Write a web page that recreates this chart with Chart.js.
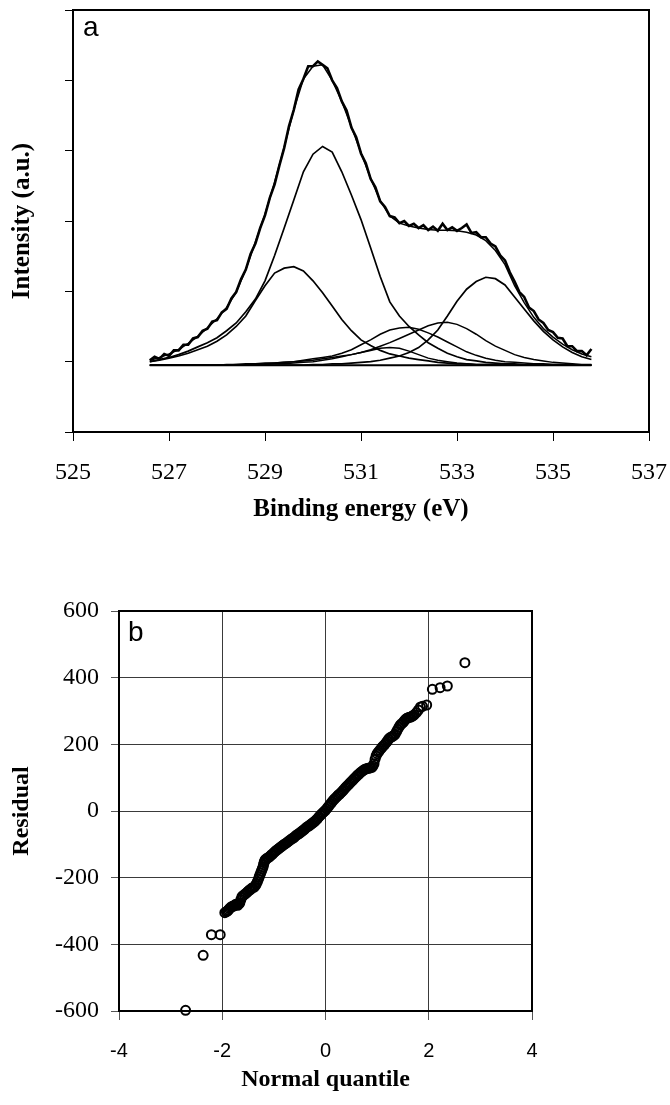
<!DOCTYPE html>
<html>
<head>
<meta charset="utf-8">
<script src="https://cdn.jsdelivr.net/npm/chart.js@4.4.1/dist/chart.umd.min.js"></script>
<style>
  html, body { margin: 0; padding: 0; background: #fff; }
  canvas { position: absolute; left: 0; }
  #chartA { top: 0; }
  #chartB { top: 560px; }
</style>
</head>
<body>
<canvas id="chartA" width="670" height="545"></canvas>
<canvas id="chartB" width="670" height="545"></canvas>
<script>
// ---- panel a: O 1s spectrum and fitted components ----
const spectrumE = [526.6,526.7,526.8,526.9,527.0,527.1,527.2,527.3,527.4,527.5,527.6,527.7,527.8,527.9,528.0,528.1,528.2,528.3,528.4,528.5,528.6,528.7,528.8,528.9,529.0,529.1,529.2,529.3,529.4,529.5,529.6,529.7,529.8,529.9,530.0,530.1,530.2,530.3,530.4,530.5,530.6,530.7,530.8,530.9,531.0,531.1,531.2,531.3,531.4,531.5,531.6,531.7,531.8,531.9,532.0,532.1,532.2,532.3,532.4,532.5,532.6,532.7,532.8,532.9,533.0,533.1,533.2,533.3,533.4,533.5,533.6,533.7,533.8,533.9,534.0,534.1,534.2,534.3,534.4,534.5,534.6,534.7,534.8,534.9,535.0,535.1,535.2,535.3,535.4,535.5,535.6,535.7,535.8];
const spectrum = [1.02,1.07,1.04,1.11,1.08,1.16,1.16,1.24,1.24,1.33,1.35,1.44,1.47,1.57,1.59,1.70,1.75,1.90,1.99,2.17,2.31,2.53,2.68,2.90,3.08,3.33,3.52,3.79,4.04,4.35,4.58,4.87,5.02,5.20,5.20,5.27,5.22,5.17,5.00,4.89,4.70,4.57,4.33,4.19,3.96,3.82,3.60,3.48,3.28,3.20,3.07,3.05,2.97,3.00,2.93,2.96,2.90,2.94,2.87,2.92,2.86,2.96,2.87,2.91,2.86,2.90,2.95,2.83,2.84,2.77,2.77,2.68,2.64,2.51,2.44,2.27,2.14,1.99,1.92,1.77,1.72,1.60,1.55,1.45,1.42,1.34,1.33,1.22,1.22,1.15,1.15,1.09,1.18];

const fitE = [526.6,526.8,527.0,527.2,527.4,527.6,527.8,528.0,528.2,528.4,528.6,528.8,529.0,529.2,529.4,529.6,529.8,530.0,530.2,530.4,530.6,530.8,531.0,531.2,531.4,531.6,531.8,532.0,532.2,532.4,532.6,532.8,533.0,533.2,533.4,533.6,533.8,534.0,534.2,534.4,534.6,534.8,535.0,535.2,535.4,535.6,535.8];
const fitSum = [1.02,1.06,1.11,1.17,1.26,1.36,1.48,1.61,1.77,1.99,2.31,2.70,3.10,3.55,4.05,4.58,5.02,5.20,5.22,5.00,4.70,4.34,3.97,3.61,3.29,3.07,2.97,2.93,2.90,2.88,2.87,2.87,2.86,2.84,2.80,2.72,2.58,2.38,2.08,1.84,1.63,1.47,1.35,1.25,1.17,1.11,1.07];
const peak529 = [1.00,1.02,1.05,1.08,1.12,1.17,1.22,1.29,1.38,1.50,1.65,1.87,2.08,2.26,2.33,2.35,2.29,2.15,1.98,1.79,1.60,1.44,1.31,1.23,1.16,1.11,1.08,1.05,1.03,1.01,0.99,0.98,0.97,0.97,0.96,0.96,0.96,0.96,0.95,0.95,0.95,0.95,0.95,0.95,0.95,0.95,0.95];
const peak530 = [1.00,1.03,1.06,1.10,1.15,1.21,1.27,1.34,1.44,1.55,1.71,1.89,2.15,2.51,2.90,3.30,3.70,3.95,4.06,3.98,3.70,3.37,3.02,2.62,2.21,1.85,1.65,1.50,1.38,1.27,1.19,1.12,1.07,1.03,1.01,0.99,0.98,0.97,0.97,0.96,0.96,0.96,0.96,0.96,0.95,0.95,0.95];
const peak5316 = [0.95,0.95,0.95,0.95,0.95,0.95,0.95,0.95,0.95,0.95,0.95,0.96,0.96,0.97,0.97,0.98,0.99,1.00,1.02,1.04,1.07,1.10,1.13,1.16,1.19,1.20,1.19,1.15,1.10,1.05,1.02,1.00,0.98,0.97,0.96,0.96,0.96,0.95,0.95,0.95,0.95,0.95,0.95,0.95,0.95,0.95,0.95];
const peak532 = [0.95,0.95,0.95,0.95,0.95,0.95,0.95,0.95,0.95,0.96,0.96,0.96,0.97,0.98,0.99,1.00,1.02,1.04,1.06,1.08,1.12,1.17,1.24,1.31,1.39,1.45,1.48,1.49,1.46,1.41,1.35,1.28,1.21,1.14,1.09,1.05,1.02,1.00,0.99,0.98,0.97,0.97,0.96,0.96,0.96,0.95,0.95];
const peak5328 = [0.95,0.95,0.95,0.95,0.95,0.95,0.95,0.95,0.96,0.96,0.97,0.97,0.98,0.98,0.99,1.00,1.01,1.02,1.04,1.06,1.08,1.10,1.13,1.17,1.22,1.27,1.33,1.39,1.45,1.51,1.55,1.56,1.53,1.47,1.39,1.30,1.22,1.16,1.10,1.06,1.03,1.01,0.99,0.98,0.97,0.96,0.96];
const peak5337 = [0.95,0.95,0.95,0.95,0.95,0.95,0.95,0.95,0.95,0.95,0.95,0.95,0.95,0.95,0.95,0.95,0.95,0.96,0.96,0.97,0.97,0.98,0.99,1.00,1.02,1.05,1.08,1.13,1.20,1.31,1.45,1.65,1.86,2.03,2.14,2.20,2.18,2.09,1.92,1.75,1.58,1.43,1.31,1.21,1.13,1.07,1.03];
const baseE = [526.6, 535.8];
const baseV = [0.95, 0.95];

// ---- panel b: normal probability plot of residuals ----
const quantiles = [
  -2.71,-2.37,-2.21,-2.04,-1.95,-1.92,-1.90,-1.88,-1.86,-1.84,
  -1.82,-1.80,-1.78,-1.76,-1.74,-1.72,-1.70,-1.68,-1.66,-1.64,
  -1.62,-1.60,-1.57,-1.55,-1.52,-1.50,-1.47,-1.45,-1.43,-1.41,
  -1.38,-1.36,-1.34,-1.32,-1.30,-1.285,-1.27,-1.255,-1.24,-1.225,
  -1.21,-1.20,-1.19,-1.18,-1.17,-1.15,
  -1.125,-1.100,-1.075,-1.050,-1.025,-1.000,-0.975,-0.950,-0.925,-0.900,
  -0.875,-0.850,-0.825,-0.800,-0.775,-0.750,-0.725,-0.700,-0.675,-0.650,
  -0.625,-0.600,-0.575,-0.550,-0.525,-0.500,-0.475,-0.450,-0.425,-0.400,
  -0.375,-0.350,-0.325,-0.300,-0.275,-0.250,-0.225,-0.200,-0.175,-0.150,
  -0.125,-0.100,-0.075,-0.050,-0.025,0.000,0.025,0.050,0.075,0.100,
  0.125,0.150,0.175,0.200,0.225,0.250,0.275,0.300,0.325,0.350,
  0.375,0.400,0.425,0.450,0.475,0.500,0.525,0.550,0.575,0.600,
  0.625,0.650,0.675,0.700,0.725,0.750,0.775,0.800,0.825,0.850,
  0.875,0.900,0.920,0.940,0.960,0.980,1.000,1.025,1.050,1.075,
  1.100,1.125,1.150,1.175,1.200,1.225,1.250,1.275,1.300,1.325,
  1.350,1.375,1.400,1.425,1.450,1.475,1.500,1.525,1.550,1.575,
  1.600,1.625,1.650,1.675,1.700,
  1.72,1.76,1.80,1.84,1.88,1.96,2.07,2.22,2.36,2.70
];
const residuals = [
  -598,-433,-371,-371,-305,-302,-300,-297,-293,-290,
  -287,-286,-285,-283,-280,-281,-283,-279,-276,-266,
  -258,-254,-251,-248,-244,-241,-237,-235,-232,-230,
  -228,-224,-219,-212,-205,-198,-192,-186,-180,-174,
  -168,-161,-155,-151,-147,-144,
  -141,-139,-136,-132,-129,-125,-121,-118,-115,-112,
  -109,-106,-103,-100,-98,-95,-92,-89,-86,-83,
  -81,-78,-74,-71,-69,-66,-63,-60,-57,-54,
  -50,-47,-45,-42,-39,-36,-33,-30,-26,-22,
  -17,-13,-9,-5,-1,2,7,12,17,22,
  27,32,36,40,44,48,51,55,59,63,
  68,72,76,80,84,88,92,96,100,104,
  108,111,115,118,121,124,126,127,128,129,
  130,131,135,142,155,165,172,177,182,187,
  192,196,200,205,210,216,220,222,224,227,
  230,238,245,252,258,262,265,270,275,278,
  280,281,282,284,286,
  289,295,303,312,314,318,365,370,375,445
];

const SERIF = '"Liberation Serif", "Times New Roman", serif';
const SANS = '"Liberation Sans", Arial, sans-serif';

// frame around the plot area + panel letter
const framePlugin = {
  id: 'frame',
  afterDatasetsDraw(chart, args, opts) {
    const { ctx, chartArea: a } = chart;
    ctx.save();
    ctx.strokeStyle = '#000';
    ctx.lineWidth = 2;
    ctx.strokeRect(a.left, a.top, a.right - a.left, a.bottom - a.top);
    ctx.fillStyle = '#000';
    ctx.font = '28px ' + SANS;
    ctx.textBaseline = 'alphabetic';
    ctx.fillText(opts.letter, a.left + opts.dx, a.top + opts.dy);
    ctx.restore();
  }
};

function lineSet(xs, ys, width) {
  return {
    data: xs.map((x, i) => ({ x, y: ys[i] })),
    showLine: true,
    borderColor: '#000',
    borderWidth: width,
    pointRadius: 0,
    tension: 0,
  };
}

// keep the plot box where it is: no extra room for edge labels
function fixBox(w, h) {
  return s => {
    if (w) s.width = w;
    if (h) s.height = h;
    s.paddingLeft = 0; s.paddingRight = 0;
    s.paddingTop = 0; s.paddingBottom = 0;
  };
}

new Chart(document.getElementById('chartA'), {
  type: 'scatter',
  plugins: [framePlugin],
  data: {
    datasets: [
      lineSet(spectrumE, spectrum, 2.6),
      lineSet(fitE, fitSum, 1.5),
      lineSet(fitE, peak529, 1.7),
      lineSet(fitE, peak530, 1.7),
      lineSet(fitE, peak5316, 1.5),
      lineSet(fitE, peak532, 1.5),
      lineSet(fitE, peak5328, 1.5),
      lineSet(fitE, peak5337, 1.7),
      lineSet(baseE, baseV, 2),
    ],
  },
  options: {
    responsive: false,
    animation: false,
    layout: { padding: { left: 0, right: 21, top: 10, bottom: 0 } },
    plugins: { legend: { display: false }, tooltip: { enabled: false }, frame: { letter: 'a', dx: 10, dy: 26 } },
    scales: {
      x: {
        type: 'linear', min: 525, max: 537,
        ticks: { stepSize: 2, color: '#000', font: { family: SERIF, size: 24 }, padding: 17, maxRotation: 0, autoSkip: false },
        grid: { drawOnChartArea: false, tickLength: 9, tickColor: '#000', tickWidth: 1 },
        border: { display: true, color: '#000', width: 2 },
        title: { display: true, text: 'Binding energy (eV)', color: '#000', font: { family: SERIF, size: 25, weight: 'bold' }, padding: { top: 0, bottom: 20 } },
        afterFit: fixBox(0, 113),
      },
      y: {
        type: 'linear', min: 0, max: 6,
        ticks: { stepSize: 1, callback: () => '' },
        grid: { drawOnChartArea: false, tickLength: 8, tickColor: '#000', tickWidth: 1 },
        border: { display: true, color: '#000', width: 2 },
        title: { display: true, text: 'Intensity (a.u.)', color: '#000', font: { family: SERIF, size: 25, weight: 'bold' }, padding: { top: 8, bottom: 0 } },
        afterFit: fixBox(73, 0),
      },
    },
  },
});

new Chart(document.getElementById('chartB'), {
  type: 'scatter',
  plugins: [framePlugin],
  data: {
    datasets: [{
      data: quantiles.map((q, i) => ({ x: q, y: residuals[i] })),
      pointStyle: 'circle',
      pointRadius: 4.5,
      pointBorderWidth: 2,
      pointBorderColor: '#000',
      pointBackgroundColor: 'rgba(255,255,255,0)',
      clip: false,
    }],
  },
  options: {
    responsive: false,
    animation: false,
    layout: { padding: { left: 0, right: 138, top: 51, bottom: 0 } },
    plugins: { legend: { display: false }, tooltip: { enabled: false }, frame: { letter: 'b', dx: 9, dy: 30 } },
    scales: {
      x: {
        type: 'linear', min: -4, max: 4,
        ticks: { stepSize: 2, color: '#000', font: { family: SANS, size: 20 }, padding: 19, maxRotation: 0, autoSkip: false },
        grid: { color: '#3a3a3a', lineWidth: 1, tickLength: 9, tickColor: '#555', tickWidth: 1 },
        border: { display: true, color: '#000', width: 2 },
        title: { display: true, text: 'Normal quantile', color: '#000', font: { family: SERIF, size: 24, weight: 'bold' }, padding: { top: 0, bottom: 11 } },
        afterFit: fixBox(0, 94),
      },
      y: {
        type: 'linear', min: -600, max: 600,
        ticks: { stepSize: 200, color: '#000', font: { family: SERIF, size: 24 }, padding: 12 },
        grid: { color: '#3a3a3a', lineWidth: 1, tickLength: 8, tickColor: '#555', tickWidth: 1 },
        border: { display: true, color: '#000', width: 2 },
        title: { display: true, text: 'Residual', color: '#000', font: { family: SERIF, size: 24, weight: 'bold' }, padding: { top: 7, bottom: 0 } },
        afterFit: fixBox(119, 0),
      },
    },
  },
});
</script>
</body>
</html>
